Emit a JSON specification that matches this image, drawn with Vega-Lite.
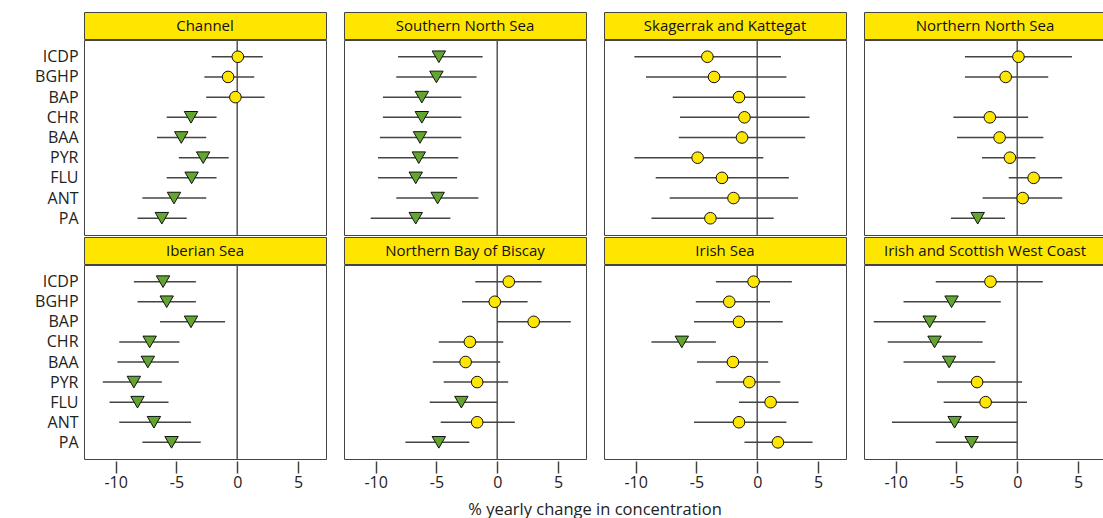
{
  "$schema": "https://vega.github.io/schema/vega-lite/v6.json",
  "padding": {"left": 34, "top": 11, "right": 2, "bottom": 0},
  "background": "white",
  "datasets": {
    "regions": [
      {"region": "Channel"}, {"region": "Southern North Sea"}, {"region": "Skagerrak and Kattegat"}, {"region": "Northern North Sea"},
      {"region": "Iberian Sea"}, {"region": "Northern Bay of Biscay"}, {"region": "Irish Sea"}, {"region": "Irish and Scottish West Coast"}
    ],
    "pah": [
      {"region": "Channel", "compound": "ICDP", "est": 0.05, "lo": -2.1, "hi": 2.1, "trend": "none"},
      {"region": "Channel", "compound": "BGHP", "est": -0.75, "lo": -2.7, "hi": 1.4, "trend": "none"},
      {"region": "Channel", "compound": "BAP", "est": -0.15, "lo": -2.55, "hi": 2.25, "trend": "none"},
      {"region": "Channel", "compound": "CHR", "est": -3.8, "lo": -5.8, "hi": -1.7, "trend": "decrease"},
      {"region": "Channel", "compound": "BAA", "est": -4.6, "lo": -6.6, "hi": -2.55, "trend": "decrease"},
      {"region": "Channel", "compound": "PYR", "est": -2.8, "lo": -4.8, "hi": -0.7, "trend": "decrease"},
      {"region": "Channel", "compound": "FLU", "est": -3.75, "lo": -5.8, "hi": -1.7, "trend": "decrease"},
      {"region": "Channel", "compound": "ANT", "est": -5.2, "lo": -7.8, "hi": -2.55, "trend": "decrease"},
      {"region": "Channel", "compound": "PA", "est": -6.2, "lo": -8.2, "hi": -4.15, "trend": "decrease"},

      {"region": "Southern North Sea", "compound": "ICDP", "est": -4.8, "lo": -8.15, "hi": -1.2, "trend": "decrease"},
      {"region": "Southern North Sea", "compound": "BGHP", "est": -5.0, "lo": -8.3, "hi": -1.7, "trend": "decrease"},
      {"region": "Southern North Sea", "compound": "BAP", "est": -6.2, "lo": -9.4, "hi": -2.95, "trend": "decrease"},
      {"region": "Southern North Sea", "compound": "CHR", "est": -6.2, "lo": -9.4, "hi": -2.95, "trend": "decrease"},
      {"region": "Southern North Sea", "compound": "BAA", "est": -6.35, "lo": -9.65, "hi": -2.95, "trend": "decrease"},
      {"region": "Southern North Sea", "compound": "PYR", "est": -6.45, "lo": -9.8, "hi": -3.2, "trend": "decrease"},
      {"region": "Southern North Sea", "compound": "FLU", "est": -6.7, "lo": -9.8, "hi": -3.3, "trend": "decrease"},
      {"region": "Southern North Sea", "compound": "ANT", "est": -4.9, "lo": -8.3, "hi": -1.55, "trend": "decrease"},
      {"region": "Southern North Sea", "compound": "PA", "est": -6.7, "lo": -10.4, "hi": -3.85, "trend": "decrease"},

      {"region": "Skagerrak and Kattegat", "compound": "ICDP", "est": -4.1, "lo": -10.1, "hi": 1.95, "trend": "none"},
      {"region": "Skagerrak and Kattegat", "compound": "BGHP", "est": -3.55, "lo": -9.15, "hi": 2.4, "trend": "none"},
      {"region": "Skagerrak and Kattegat", "compound": "BAP", "est": -1.5, "lo": -6.95, "hi": 3.95, "trend": "none"},
      {"region": "Skagerrak and Kattegat", "compound": "CHR", "est": -1.05, "lo": -6.35, "hi": 4.3, "trend": "none"},
      {"region": "Skagerrak and Kattegat", "compound": "BAA", "est": -1.25, "lo": -6.45, "hi": 3.95, "trend": "none"},
      {"region": "Skagerrak and Kattegat", "compound": "PYR", "est": -4.9, "lo": -10.1, "hi": 0.5, "trend": "none"},
      {"region": "Skagerrak and Kattegat", "compound": "FLU", "est": -2.9, "lo": -8.35, "hi": 2.6, "trend": "none"},
      {"region": "Skagerrak and Kattegat", "compound": "ANT", "est": -1.95, "lo": -7.2, "hi": 3.35, "trend": "none"},
      {"region": "Skagerrak and Kattegat", "compound": "PA", "est": -3.85, "lo": -8.7, "hi": 1.35, "trend": "none"},

      {"region": "Northern North Sea", "compound": "ICDP", "est": 0.1, "lo": -4.3, "hi": 4.5, "trend": "none"},
      {"region": "Northern North Sea", "compound": "BGHP", "est": -0.95, "lo": -4.3, "hi": 2.55, "trend": "none"},
      {"region": "Northern North Sea", "compound": "CHR", "est": -2.25, "lo": -5.25, "hi": 0.9, "trend": "none"},
      {"region": "Northern North Sea", "compound": "BAA", "est": -1.45, "lo": -4.95, "hi": 2.15, "trend": "none"},
      {"region": "Northern North Sea", "compound": "PYR", "est": -0.6, "lo": -2.9, "hi": 1.5, "trend": "none"},
      {"region": "Northern North Sea", "compound": "FLU", "est": 1.35, "lo": -0.7, "hi": 3.7, "trend": "none"},
      {"region": "Northern North Sea", "compound": "ANT", "est": 0.45, "lo": -2.85, "hi": 3.7, "trend": "none"},
      {"region": "Northern North Sea", "compound": "PA", "est": -3.25, "lo": -5.45, "hi": -1.0, "trend": "decrease"},

      {"region": "Iberian Sea", "compound": "ICDP", "est": -6.1, "lo": -8.5, "hi": -3.4, "trend": "decrease"},
      {"region": "Iberian Sea", "compound": "BGHP", "est": -5.8, "lo": -8.2, "hi": -3.4, "trend": "decrease"},
      {"region": "Iberian Sea", "compound": "BAP", "est": -3.8, "lo": -6.35, "hi": -1.0, "trend": "decrease"},
      {"region": "Iberian Sea", "compound": "CHR", "est": -7.2, "lo": -9.7, "hi": -4.75, "trend": "decrease"},
      {"region": "Iberian Sea", "compound": "BAA", "est": -7.35, "lo": -9.85, "hi": -4.8, "trend": "decrease"},
      {"region": "Iberian Sea", "compound": "PYR", "est": -8.5, "lo": -11.05, "hi": -6.2, "trend": "decrease"},
      {"region": "Iberian Sea", "compound": "FLU", "est": -8.2, "lo": -10.5, "hi": -5.65, "trend": "decrease"},
      {"region": "Iberian Sea", "compound": "ANT", "est": -6.85, "lo": -9.7, "hi": -3.8, "trend": "decrease"},
      {"region": "Iberian Sea", "compound": "PA", "est": -5.4, "lo": -7.8, "hi": -3.0, "trend": "decrease"},

      {"region": "Northern Bay of Biscay", "compound": "ICDP", "est": 0.95, "lo": -1.8, "hi": 3.65, "trend": "none"},
      {"region": "Northern Bay of Biscay", "compound": "BGHP", "est": -0.2, "lo": -2.9, "hi": 2.5, "trend": "none"},
      {"region": "Northern Bay of Biscay", "compound": "BAP", "est": 3.0, "lo": 0.0, "hi": 6.05, "trend": "none"},
      {"region": "Northern Bay of Biscay", "compound": "CHR", "est": -2.25, "lo": -4.8, "hi": 0.5, "trend": "none"},
      {"region": "Northern Bay of Biscay", "compound": "BAA", "est": -2.6, "lo": -5.3, "hi": 0.25, "trend": "none"},
      {"region": "Northern Bay of Biscay", "compound": "PYR", "est": -1.65, "lo": -4.4, "hi": 0.9, "trend": "none"},
      {"region": "Northern Bay of Biscay", "compound": "FLU", "est": -2.95, "lo": -5.55, "hi": 0.0, "trend": "decrease"},
      {"region": "Northern Bay of Biscay", "compound": "ANT", "est": -1.65, "lo": -4.65, "hi": 1.45, "trend": "none"},
      {"region": "Northern Bay of Biscay", "compound": "PA", "est": -4.8, "lo": -7.55, "hi": -2.3, "trend": "decrease"},

      {"region": "Irish Sea", "compound": "ICDP", "est": -0.3, "lo": -3.4, "hi": 2.85, "trend": "none"},
      {"region": "Irish Sea", "compound": "BGHP", "est": -2.3, "lo": -5.05, "hi": 1.05, "trend": "none"},
      {"region": "Irish Sea", "compound": "BAP", "est": -1.5, "lo": -5.2, "hi": 2.1, "trend": "none"},
      {"region": "Irish Sea", "compound": "CHR", "est": -6.2, "lo": -8.7, "hi": -3.4, "trend": "decrease"},
      {"region": "Irish Sea", "compound": "BAA", "est": -2.0, "lo": -4.95, "hi": 0.9, "trend": "none"},
      {"region": "Irish Sea", "compound": "PYR", "est": -0.65, "lo": -3.4, "hi": 1.9, "trend": "none"},
      {"region": "Irish Sea", "compound": "FLU", "est": 1.1, "lo": -1.5, "hi": 3.4, "trend": "none"},
      {"region": "Irish Sea", "compound": "ANT", "est": -1.5, "lo": -5.2, "hi": 2.4, "trend": "none"},
      {"region": "Irish Sea", "compound": "PA", "est": 1.7, "lo": -1.05, "hi": 4.55, "trend": "none"},

      {"region": "Irish and Scottish West Coast", "compound": "ICDP", "est": -2.2, "lo": -6.7, "hi": 2.1, "trend": "none"},
      {"region": "Irish and Scottish West Coast", "compound": "BGHP", "est": -5.4, "lo": -9.35, "hi": -1.35, "trend": "decrease"},
      {"region": "Irish and Scottish West Coast", "compound": "BAP", "est": -7.2, "lo": -11.8, "hi": -2.6, "trend": "decrease"},
      {"region": "Irish and Scottish West Coast", "compound": "CHR", "est": -6.8, "lo": -10.65, "hi": -2.85, "trend": "decrease"},
      {"region": "Irish and Scottish West Coast", "compound": "BAA", "est": -5.6, "lo": -9.35, "hi": -1.8, "trend": "decrease"},
      {"region": "Irish and Scottish West Coast", "compound": "PYR", "est": -3.3, "lo": -6.6, "hi": 0.4, "trend": "none"},
      {"region": "Irish and Scottish West Coast", "compound": "FLU", "est": -2.6, "lo": -6.05, "hi": 0.8, "trend": "none"},
      {"region": "Irish and Scottish West Coast", "compound": "ANT", "est": -5.15, "lo": -10.3, "hi": 0.0, "trend": "decrease"},
      {"region": "Irish and Scottish West Coast", "compound": "PA", "est": -3.75, "lo": -6.7, "hi": 0.0, "trend": "decrease"}
    ]
  },
  "spacing": -5,
  "vconcat": [
    {
      "data": {"name": "regions"},
      "transform": [{"filter": {"field": "region", "oneOf": ["Channel", "Southern North Sea", "Skagerrak and Kattegat", "Northern North Sea"]}}],
      "facet": {"column": {"field": "region", "type": "nominal", "sort": ["Channel", "Southern North Sea", "Skagerrak and Kattegat", "Northern North Sea"], "header": null}},
      "spacing": 16,
      "spec": {
        "width": 242, "height": 27,
        "view": {"fill": "#FFE600", "stroke": "#444"},
        "mark": {"type": "text", "fontSize": 15, "color": "#111", "font": "Open Sans"},
        "encoding": {
          "text": {"field": "region", "type": "nominal"},
          "y": {"datum": "BGHP", "type": "nominal", "axis": {"labelOpacity": 0, "ticks": false, "domain": false, "title": null, "labelPadding": 5}}
        }
      }
    },
    {
      "data": {"name": "pah"},
      "transform": [{"filter": {"field": "region", "oneOf": ["Channel", "Southern North Sea", "Skagerrak and Kattegat", "Northern North Sea"]}}],
      "facet": {"column": {"field": "region", "type": "nominal", "sort": ["Channel", "Southern North Sea", "Skagerrak and Kattegat", "Northern North Sea"], "header": null}},
      "spacing": 16,
      "spec": {
        "width": 242, "height": 195,
        "view": {"fill": "white", "stroke": "#444"},
        "layer": [
          {
            "transform": [{"aggregate": [{"op": "count", "as": "n"}], "groupby": ["region"]}],
            "mark": {"type": "rule", "color": "#555", "strokeWidth": 1.5},
            "encoding": {"x": {"datum": 0, "type": "quantitative", "scale": {"domain": [-12.6, 7.3], "nice": false, "zero": false}, "axis": null}}
          },
          {
            "mark": {"type": "rule", "color": "#444", "strokeWidth": 1.5},
            "encoding": {
              "y": {"field": "compound", "type": "nominal", "scale": {"type": "point", "domain": ["ICDP", "BGHP", "BAP", "CHR", "BAA", "PYR", "FLU", "ANT", "PA"], "padding": 0.83}, "axis": {"title": null, "ticks": false, "domain": false, "labelPadding": 5}},
              "x": {"field": "lo", "type": "quantitative", "scale": {"domain": [-12.6, 7.3], "nice": false, "zero": false}, "axis": null},
              "x2": {"field": "hi"}
            }
          },
          {
            "mark": {"type": "point", "filled": true, "stroke": "#111", "strokeWidth": 1, "opacity": 1},
            "encoding": {
              "y": {"field": "compound", "type": "nominal", "scale": {"type": "point", "domain": ["ICDP", "BGHP", "BAP", "CHR", "BAA", "PYR", "FLU", "ANT", "PA"], "padding": 0.83}, "axis": {"title": null, "ticks": false, "domain": false, "labelPadding": 5}},
              "x": {"field": "est", "type": "quantitative", "scale": {"domain": [-12.6, 7.3], "nice": false, "zero": false}, "axis": null},
              "shape": {"field": "trend", "type": "nominal", "scale": {"domain": ["none", "decrease"], "range": ["circle", "triangle-down"]}, "legend": null},
              "fill": {"field": "trend", "type": "nominal", "scale": {"domain": ["none", "decrease"], "range": ["#FFE600", "#63A62F"]}, "legend": null},
              "size": {"field": "trend", "type": "nominal", "scale": {"domain": ["none", "decrease"], "range": [135, 180]}, "legend": null}
            }
          }
        ]
      }
    },
    {
      "data": {"name": "regions"},
      "transform": [{"filter": {"field": "region", "oneOf": ["Iberian Sea", "Northern Bay of Biscay", "Irish Sea", "Irish and Scottish West Coast"]}}],
      "facet": {"column": {"field": "region", "type": "nominal", "sort": ["Iberian Sea", "Northern Bay of Biscay", "Irish Sea", "Irish and Scottish West Coast"], "header": null}},
      "spacing": 16,
      "spec": {
        "width": 242, "height": 27,
        "view": {"fill": "#FFE600", "stroke": "#444"},
        "mark": {"type": "text", "fontSize": 15, "color": "#111", "font": "Open Sans"},
        "encoding": {
          "text": {"field": "region", "type": "nominal"},
          "y": {"datum": "BGHP", "type": "nominal", "axis": {"labelOpacity": 0, "ticks": false, "domain": false, "title": null, "labelPadding": 5}}
        }
      }
    },
    {
      "data": {"name": "pah"},
      "transform": [{"filter": {"field": "region", "oneOf": ["Iberian Sea", "Northern Bay of Biscay", "Irish Sea", "Irish and Scottish West Coast"]}}],
      "facet": {"column": {"field": "region", "type": "nominal", "sort": ["Iberian Sea", "Northern Bay of Biscay", "Irish Sea", "Irish and Scottish West Coast"],
        "header": {"labels": false, "title": "% yearly change in concentration", "titleOrient": "bottom", "titleFont": "Open Sans", "titleFontSize": 16.5, "titleFontWeight": "normal", "titleColor": "#222", "titlePadding": 2}}},
      "spacing": 16,
      "spec": {
        "width": 242, "height": 194,
        "view": {"fill": "white", "stroke": "#444"},
        "layer": [
          {
            "transform": [{"aggregate": [{"op": "count", "as": "n"}], "groupby": ["region"]}],
            "mark": {"type": "rule", "color": "#555", "strokeWidth": 1.5},
            "encoding": {"x": {"datum": 0, "type": "quantitative", "scale": {"domain": [-12.6, 7.3], "nice": false, "zero": false}, "axis": {"values": [-10, -5, 0, 5], "title": null, "labelExpr": "'' + datum.value"}}}
          },
          {
            "mark": {"type": "rule", "color": "#444", "strokeWidth": 1.5},
            "encoding": {
              "y": {"field": "compound", "type": "nominal", "scale": {"type": "point", "domain": ["ICDP", "BGHP", "BAP", "CHR", "BAA", "PYR", "FLU", "ANT", "PA"], "padding": 0.83}, "axis": {"title": null, "ticks": false, "domain": false, "labelPadding": 5}},
              "x": {"field": "lo", "type": "quantitative", "scale": {"domain": [-12.6, 7.3], "nice": false, "zero": false}, "axis": {"values": [-10, -5, 0, 5], "title": null, "labelExpr": "'' + datum.value"}},
              "x2": {"field": "hi"}
            }
          },
          {
            "mark": {"type": "point", "filled": true, "stroke": "#111", "strokeWidth": 1, "opacity": 1},
            "encoding": {
              "y": {"field": "compound", "type": "nominal", "scale": {"type": "point", "domain": ["ICDP", "BGHP", "BAP", "CHR", "BAA", "PYR", "FLU", "ANT", "PA"], "padding": 0.83}, "axis": {"title": null, "ticks": false, "domain": false, "labelPadding": 5}},
              "x": {"field": "est", "type": "quantitative", "scale": {"domain": [-12.6, 7.3], "nice": false, "zero": false}, "axis": {"values": [-10, -5, 0, 5], "title": null, "labelExpr": "'' + datum.value"}},
              "shape": {"field": "trend", "type": "nominal", "scale": {"domain": ["none", "decrease"], "range": ["circle", "triangle-down"]}, "legend": null},
              "fill": {"field": "trend", "type": "nominal", "scale": {"domain": ["none", "decrease"], "range": ["#FFE600", "#63A62F"]}, "legend": null},
              "size": {"field": "trend", "type": "nominal", "scale": {"domain": ["none", "decrease"], "range": [135, 180]}, "legend": null}
            }
          }
        ]
      }
    }
  ],
  "config": {
    "font": "Open Sans",
    "axis": {"labelFont": "Open Sans", "labelFontSize": 16, "labelColor": "#222", "titleFont": "Open Sans", "titleFontSize": 16.5, "titleFontWeight": "normal", "titleColor": "#222", "grid": false},
    "axisX": {"tickSize": 12, "tickColor": "#444", "tickWidth": 1.5, "domain": false, "labelPadding": 1, "labelFlush": false}
  }
}
